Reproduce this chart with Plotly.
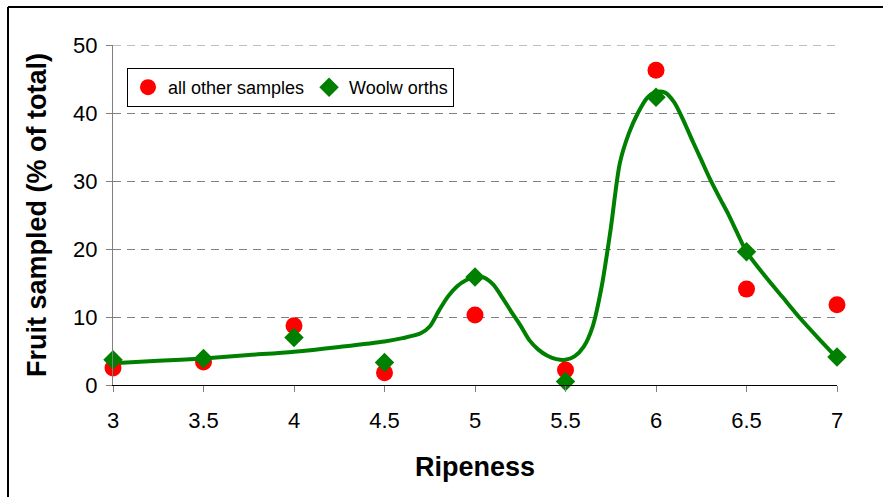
import plotly.graph_objects as go

# --- data ---
ripeness = [3, 3.5, 4, 4.5, 5, 5.5, 6, 6.5, 7]
other_samples = [2.5, 3.4, 8.7, 1.8, 10.3, 2.2, 46.3, 14.1, 11.8]
woolworths = [3.7, 3.9, 7.0, 3.3, 15.9, 0.5, 42.3, 19.6, 4.1]

# smoothed curve through the Woolworths distribution
curve_x = [3.0, 3.25, 3.5, 3.75, 4.0, 4.25, 4.5, 4.6, 4.7, 4.75, 4.8, 4.85,
           4.9, 4.95, 5.0, 5.05, 5.1, 5.15, 5.2, 5.25, 5.3, 5.35, 5.4, 5.45,
           5.5, 5.55, 5.6, 5.65, 5.7, 5.75, 5.8, 5.85, 5.9, 5.95, 6.0, 6.05,
           6.1, 6.15, 6.2, 6.25, 6.3, 6.35, 6.4, 6.45, 6.5, 6.6, 6.7, 6.8,
           6.9, 7.0]
curve_y = [3.2, 3.55, 3.9, 4.4, 4.9, 5.6, 6.4, 6.9, 7.6, 8.6, 10.9, 13.0,
           14.5, 15.4, 15.9, 15.8, 14.8, 12.9, 10.8, 8.8, 6.6, 5.2, 4.3, 3.8,
           3.7, 4.2, 5.6, 8.6, 14.5, 23.0, 32.6, 37.0, 40.0, 42.2, 43.1, 43.0,
           41.6, 39.0, 36.0, 33.1, 30.2, 27.6, 25.1, 22.3, 19.6, 16.1, 12.9, 9.7,
           6.8, 4.0]

x_ticks = [3, 3.5, 4, 4.5, 5, 5.5, 6, 6.5, 7]
y_ticks = [0, 10, 20, 30, 40, 50]

FONT = "Liberation Sans, Arial, sans-serif"

fig = go.Figure()
fig.add_trace(go.Scatter(
    x=curve_x, y=curve_y, mode="lines", showlegend=False, hoverinfo="skip",
    cliponaxis=False,
    line=dict(color="#008000", width=4, shape="spline", smoothing=0.8)))
fig.add_trace(go.Scatter(
    x=ripeness, y=other_samples, mode="markers", name="all other samples",
    cliponaxis=False,
    marker=dict(symbol="circle", size=17, color="#ff0000", line=dict(width=0))))
fig.add_trace(go.Scatter(
    x=ripeness, y=woolworths, mode="markers", name="Woolw orths",
    cliponaxis=False,
    marker=dict(symbol="diamond", size=15, color="#008000", line=dict(width=0))))

L, R, T, B = 113, 46, 45, 112
W, H = 883, 497
pw, ph = W - L - R, H - T - B

def px(x):
    return (x - L) / pw

def py(y):
    return (H - B - y) / ph

fig.update_layout(
    width=W, height=H,
    margin=dict(l=L, r=R, t=T, b=B, pad=0),
    paper_bgcolor="white", plot_bgcolor="white",
    font=dict(family=FONT, color="black", size=22),
    legend=dict(
        orientation="h", x=px(127), y=py(68), xanchor="left", yanchor="top",
        bgcolor="white", bordercolor="black", borderwidth=1,
        font=dict(family=FONT, size=18, color="black"),
        itemwidth=30, tracegroupgap=0),
    xaxis=dict(
        range=[x_ticks[0], x_ticks[-1]], tickvals=x_ticks,
        ticktext=[str(v) for v in x_ticks],
        showgrid=False, zeroline=False,
        showline=True, linecolor="black", linewidth=1,
        ticks="outside", ticklen=6, tickcolor="#808080", tickwidth=1,
        tickfont=dict(family=FONT, size=22, color="black"),
        ticklabelstandoff=10,
        title=dict(text="<b>Ripeness</b>", standoff=24,
                   font=dict(family=FONT, size=27, color="black"))),
    yaxis=dict(
        range=[y_ticks[0], y_ticks[-1]], tickvals=y_ticks,
        ticktext=[str(v) for v in y_ticks],
        showgrid=True, gridcolor="#808080", gridwidth=1, griddash="8px,6px",
        zeroline=False,
        showline=True, linecolor="#808080", linewidth=1,
        ticks="outside", ticklen=6, tickcolor="#808080", tickwidth=1,
        tickfont=dict(family=FONT, size=22, color="black"),
        ticklabelstandoff=4,
        title=dict(text="<b>Fruit sampled (% of total)</b>", standoff=18,
                   font=dict(family=FONT, size=27, color="black"))),
    shapes=[
        # top gridline (Plotly omits the grid line at the range edge)
        dict(type="line", xref="x", yref="y", layer="below",
             x0=x_ticks[0], x1=x_ticks[-1], y0=y_ticks[-1], y1=y_ticks[-1],
             line=dict(color="#808080", width=1, dash="8px,6px")),
        dict(type="line", xref="paper", yref="paper",
             x0=px(8), x1=px(883), y0=py(7), y1=py(7),
             line=dict(color="black", width=2)),
        dict(type="line", xref="paper", yref="paper",
             x0=px(8), x1=px(8), y0=py(7), y1=py(497),
             line=dict(color="black", width=2)),
    ],
)

fig.write_html("out.html")
